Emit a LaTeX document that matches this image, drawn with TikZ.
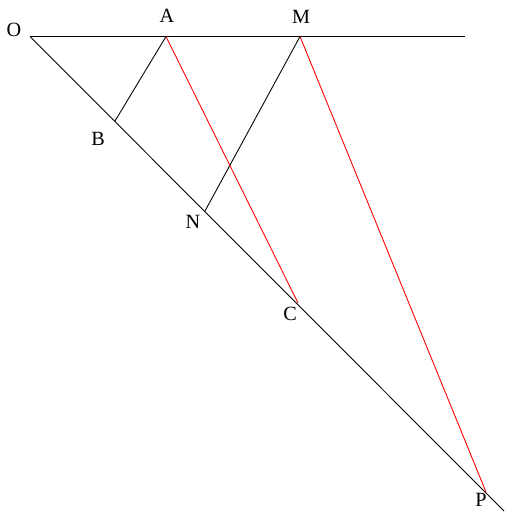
\documentclass[tikz,border=0pt]{standalone}
\usepackage{fontspec}
\setmainfont{Liberation Serif}
\usetikzlibrary{positioning}

\begin{document}
\begin{tikzpicture}[x=0.02cm,y=-0.02cm,line width=0.5pt,
    redline/.style={red,line width=0.5pt},
    ptlabel/.style={font=\fontsize{11.5}{13}\selectfont,inner sep=0pt}]
\useasboundingbox (0,0) rectangle (505,524);

% Points
\coordinate (O) at (30,36.5);
\coordinate (A) at (166,36.5);
\coordinate (M) at (300,36.5);
\coordinate (E) at (465,36.5);
\coordinate (B) at (115,121);
\coordinate (N) at (205,211);
\coordinate (C) at (298,303);
\coordinate (P) at (486,492);
\coordinate (F) at (504,511);

% Two rays from O
\draw (O) -- (E);
\draw (O) -- (F);

% Black segments
\draw (A) -- (B);
\draw (M) -- (N);

% Red segments
\draw[redline] (A) -- (C);
\draw[redline] (M) -- (P);

% Labels
\node[ptlabel] (lO) at (14,30) {O};
\node[ptlabel] (lA) at (167,16) {A};
\node[ptlabel] (lM) at (301,17) {M};
\node[ptlabel] (lB) at (98,139) {B};
\node[ptlabel] (lN) at (193,222) {N};
\node[ptlabel] (lC) at (290,314) {C};
\node[ptlabel] (lP) at (481,500) {P};

\end{tikzpicture}
\end{document}
